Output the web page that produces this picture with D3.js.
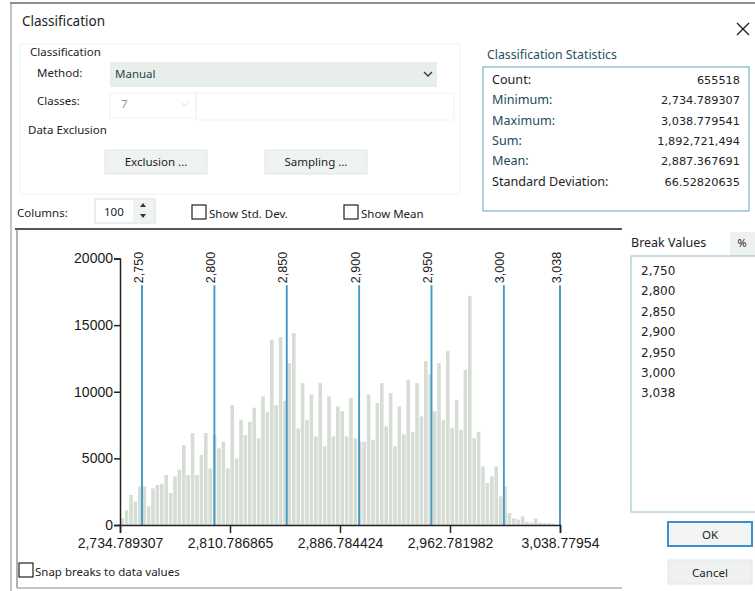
<!DOCTYPE html>
<html>
<head>
<meta charset="utf-8">
<script src="https://cdn.jsdelivr.net/npm/d3@7"></script>
<style>
  body { margin: 0; background: #fff; }
  svg { display: block; }
  .ui { font-family: "Noto Sans", "Open Sans", sans-serif; fill: #1c2326; }
  .ax { font-family: "Liberation Sans", Arial, sans-serif; fill: #1a1a1a; }
</style>
</head>
<body>
<svg id="c" width="755" height="591"></svg>
<script>
// ---------- data ----------
const histMin = 2734.789307;
const histMax = 3038.77954;
const binCounts = [
  500, 1100, 2250, 1750, 2900, 2900, 1400, 2750, 3000, 3100,
  3750, 2400, 3650, 4150, 6000, 3750, 6900, 3750, 5250, 6900,
  4250, 6750, 5750, 6250, 4250, 9000, 5000, 7900, 6750, 7750,
  8800, 6500, 9650, 8500, 13900, 9000, 14100, 9300, 12150, 14400,
  7250, 10650, 7900, 9800, 6650, 10650, 5900, 9650, 6650, 8900,
  8550, 6650, 9550, 6500, 6250, 6250, 9800, 6400, 9150, 10650,
  7400, 9900, 5900, 8900, 6800, 10900, 7000, 10650, 8150, 12300,
  11300, 8550, 12150, 7900, 13050, 7300, 9400, 7150, 11650, 17200,
  6500, 7000, 4400, 3150, 3650, 4400, 2150, 2900, 900, 500,
  400, 650, 250, 180, 500, 180, 130, 130, 80, 30
];
const breakValues = [2750, 2800, 2850, 2900, 2950, 3000, 3038.77954];
const breakLabels = ["2,750", "2,800", "2,850", "2,900", "2,950", "3,000", "3,038"];
const yTicks = [0, 5000, 10000, 15000, 20000];
const xTicks = [2734.789307, 2810.786865, 2886.784424, 2962.781982, 3038.77954];
const xTickLabels = ["2,734.789307", "2,810.786865", "2,886.784424", "2,962.781982", "3,038.77954"];
const breakLineTop = 18000;
const statLabels = ["Count:", "Minimum:", "Maximum:", "Sum:", "Mean:", "Standard Deviation:"];
const statValues = ["655518", "2,734.789307", "3,038.779541", "1,892,721,494", "2,887.367691", "66.52820635"];

// ---------- dialog chrome ----------
const svg = d3.select("#c");
svg.append("rect").attr("x", 0).attr("y", 0).attr("width", 755).attr("height", 591).attr("fill", "#fff");
svg.append("line").attr("x1", 10).attr("x2", 755).attr("y1", 3).attr("y2", 3).attr("stroke", "#6a6a6a").attr("stroke-width", 1.5);
svg.append("line").attr("x1", 11).attr("x2", 11).attr("y1", 3).attr("y2", 591).attr("stroke", "#8a8a8a").attr("stroke-width", 1);

function txt(x, y, s, size, opts = {}) {
  const t = svg.append("text").attr("class", opts.cls || "ui").attr("x", x).attr("y", y)
    .attr("font-size", size).attr("text-anchor", opts.anchor || "start")
    .style("fill", opts.fill || null).text(s);
  if (opts.family) t.style("font-family", opts.family);
  return t;
}
const VERD = "'DejaVu Sans', Verdana, sans-serif";

txt(22, 26, "Classification", 13.5);
// close X
svg.append("path").attr("d", "M737,23 L749,35 M749,23 L737,35").attr("stroke", "#222").attr("stroke-width", 1.4);

// classification group
svg.append("rect").attr("x", 20).attr("y", 44).attr("width", 440).attr("height", 150)
  .attr("fill", "none").attr("stroke", "#f0f2f1");
txt(30, 56, "Classification", 11.5);
txt(37, 77, "Method:", 11.5);
svg.append("rect").attr("x", 110).attr("y", 62).attr("width", 327).attr("height", 25).attr("fill", "#e8efeb");
txt(115, 78, "Manual", 11.5, { fill: "#1f4650" });
svg.append("path").attr("d", "M424,72 L428,76 L432,72").attr("fill", "none").attr("stroke", "#333").attr("stroke-width", 1.3);
txt(37, 105, "Classes:", 11.5);
svg.append("rect").attr("x", 110).attr("y", 93).attr("width", 86).attr("height", 25).attr("fill", "none").attr("stroke", "#eef1ef");
svg.append("rect").attr("x", 196).attr("y", 93).attr("width", 258).attr("height", 27).attr("fill", "none").attr("stroke", "#f1f3f2");
txt(121, 108, "7", 11.5, { fill: "#8a9a95" });
svg.append("path").attr("d", "M182,103 L185,106 L188,103").attr("fill", "none").attr("stroke", "#d8dcda").attr("stroke-width", 1);
txt(28, 134, "Data Exclusion", 11.5);
[[105, "Exclusion ..."], [265, "Sampling ..."]].forEach(([bx, s]) => {
  svg.append("rect").attr("x", bx).attr("y", 150).attr("width", 102).attr("height", 24)
    .attr("fill", "#eef2f0").attr("stroke", "#e2e8e5");
  txt(bx + 51, 166, s, 11.5, { anchor: "middle" });
});

// columns row
txt(17, 217, "Columns:", 11.5);
svg.append("rect").attr("x", 95).attr("y", 199).attr("width", 60).attr("height", 24).attr("fill", "#fff").attr("stroke", "#d8dcda");
svg.append("rect").attr("x", 133).attr("y", 200).attr("width", 21).attr("height", 22).attr("fill", "#eef2f0");
txt(104, 216, "100", 11.5);
svg.append("path").attr("d", "M140,207 L143,203 L146,207 Z M140,214 L143,218 L146,214 Z").attr("fill", "#333");
[[192, "Show Std. Dev."], [344, "Show Mean"]].forEach(([cx, s]) => {
  svg.append("rect").attr("x", cx).attr("y", 205).attr("width", 14).attr("height", 14).attr("fill", "#fff").attr("stroke", "#222").attr("stroke-width", 1.2);
  txt(cx + 17, 218, s, 11.5);
});

// stats box
txt(487, 59, "Classification Statistics", 12.3, { fill: "#264f5c" });
svg.append("rect").attr("x", 483).attr("y", 67).attr("width", 266).attr("height", 144)
  .attr("fill", "none").attr("stroke", "#79b6bf").attr("stroke-width", 1.2);
statLabels.forEach((s, i) => {
  const yy = 84 + i * 20.3;
  txt(492, yy, s, 12.6, { fill: i === 0 || i === 5 ? "#1c2326" : "#1d4a58" });
  txt(740, yy, statValues[i], 11.3, { anchor: "end", family: VERD });
});

// histogram panel border
svg.append("line").attr("x1", 15).attr("x2", 622).attr("y1", 229).attr("y2", 229).attr("stroke", "#555").attr("stroke-width", 1.8);
svg.append("line").attr("x1", 17).attr("x2", 17).attr("y1", 229).attr("y2", 588).attr("stroke", "#666").attr("stroke-width", 1);
svg.append("line").attr("x1", 17).attr("x2", 622).attr("y1", 588).attr("y2", 588).attr("stroke", "#888").attr("stroke-width", 1);

// ---------- histogram ----------
const x = d3.scaleLinear().domain([histMin, histMax]).range([120, 560]);
const y = d3.scaleLinear().domain([0, 20000]).range([525, 258.5]);
const binW = (histMax - histMin) / binCounts.length;

const g = svg.append("g");
g.selectAll("rect.bar").data(binCounts).join("rect").attr("class", "bar")
  .attr("x", (d, i) => x(histMin + i * binW) + 0.4)
  .attr("width", (d, i) => Math.max(0.5, x(histMin + (i + 1) * binW) - x(histMin + i * binW) - 0.8))
  .attr("y", d => y(d))
  .attr("height", d => y(0) - y(d))
  .attr("fill", "#d5ddd5");

// break lines
g.selectAll("line.brk").data(breakValues).join("line").attr("class", "brk")
  .attr("x1", d => x(d)).attr("x2", d => x(d))
  .attr("y1", y(breakLineTop)).attr("y2", y(0))
  .attr("stroke", "#4499c6").attr("stroke-width", 1.9);
g.selectAll("text.brk").data(breakValues).join("text").attr("class", "ax brk")
  .attr("transform", d => `translate(${x(d) + 0.5},${y(breakLineTop) - 2}) rotate(-90)`)
  .attr("font-size", 12.5)
  .text((d, i) => breakLabels[i]);

// axes
const yAxis = d3.axisLeft(y).tickValues(yTicks).tickSize(6).tickFormat(d3.format("d"));
const ya = svg.append("g").attr("transform", "translate(120,0)").call(yAxis);
ya.select(".domain").attr("stroke", "#222").attr("stroke-width", 1.5);
ya.selectAll(".tick line").attr("stroke", "#222").attr("stroke-width", 1.5);
ya.selectAll(".tick text").attr("font-size", 14).attr("x", -7).style("fill", "#1a1a1a").attr("font-family", "Liberation Sans, Arial, sans-serif");

const xAxis = d3.axisBottom(x).tickValues(xTicks).tickSize(8).tickFormat((d, i) => xTickLabels[i]);
const xa = svg.append("g").attr("transform", "translate(0,525)").call(xAxis);
xa.select(".domain").attr("stroke", "#222").attr("stroke-width", 1.5);
xa.selectAll(".tick line").attr("stroke", "#222").attr("stroke-width", 1.5);
xa.selectAll(".tick text").attr("font-size", 14).attr("dy", "0.85em").style("fill", "#1a1a1a").attr("font-family", "Liberation Sans, Arial, sans-serif");

// snap checkbox
svg.append("rect").attr("x", 19).attr("y", 563).attr("width", 14).attr("height", 14).attr("fill", "#fff").attr("stroke", "#222").attr("stroke-width", 1.2);
txt(35, 576, "Snap breaks to data values", 11.5);

// ---------- break values list ----------
txt(631, 247, "Break Values", 12.5);
svg.append("rect").attr("x", 730).attr("y", 232).attr("width", 25).attr("height", 26).attr("fill", "#eef1ef");
txt(742, 247, "%", 11, { anchor: "middle" });
svg.append("rect").attr("x", 631).attr("y", 256).attr("width", 130).attr("height", 256)
  .attr("fill", "#fff").attr("stroke", "#8fc0c6").attr("stroke-width", 1);
breakLabels.forEach((s, i) => txt(641, 275 + i * 20.4, s, 12, { family: VERD }));

// buttons
svg.append("rect").attr("x", 668).attr("y", 522).attr("width", 84).attr("height", 24).attr("fill", "#f2f4f3").attr("stroke", "#3a8fcf").attr("stroke-width", 2);
txt(710, 539, "OK", 11.5, { anchor: "middle" });
svg.append("rect").attr("x", 668).attr("y", 560).attr("width", 84).attr("height", 24).attr("fill", "#eef1ef").attr("stroke", "#e3e7e5");
txt(710, 577, "Cancel", 11.5, { anchor: "middle" });
</script>
</body>
</html>
